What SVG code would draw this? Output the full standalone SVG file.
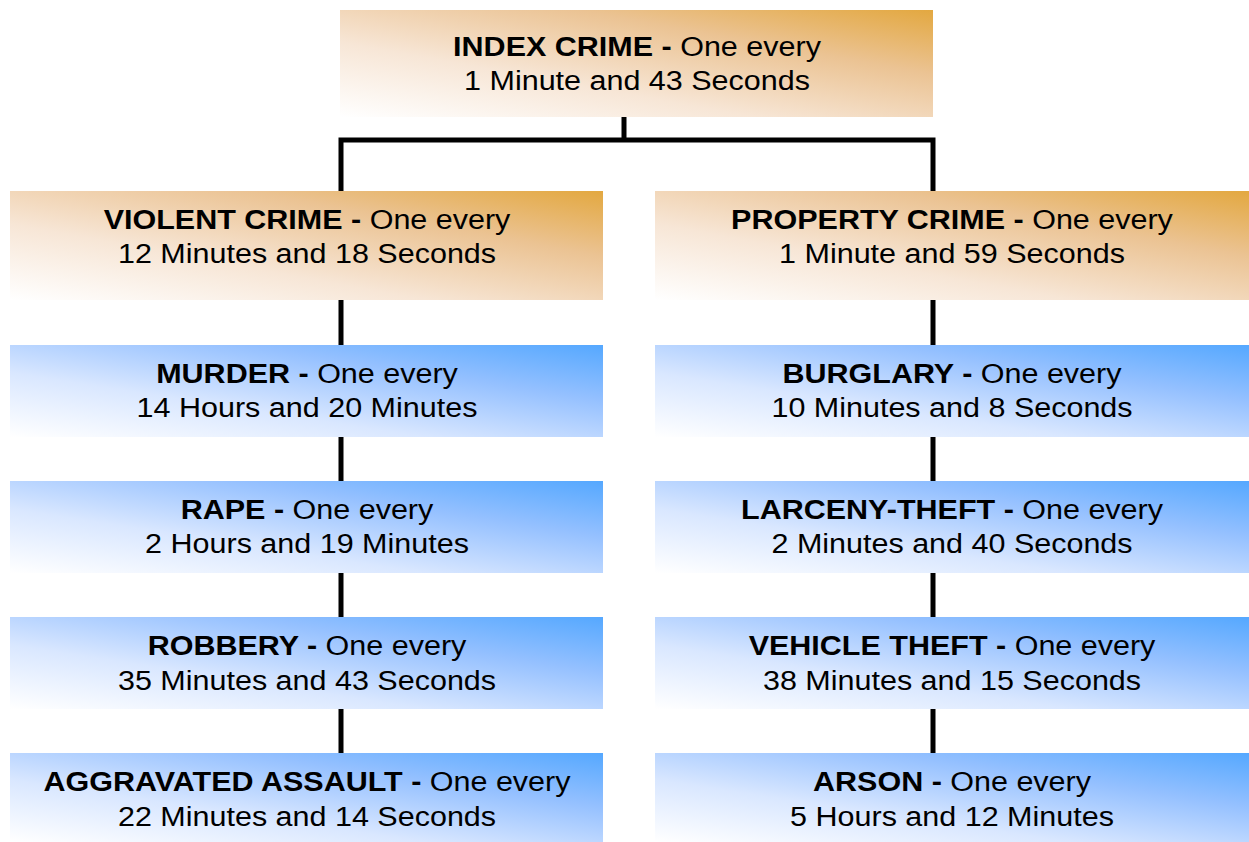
<svg xmlns="http://www.w3.org/2000/svg" width="1249" height="842" viewBox="0 0 1249 842">
<defs>
<linearGradient id="orange" x1="0" y1="1" x2="1" y2="0">
<stop offset="0" stop-color="#ffffff"/>
<stop offset="0.35" stop-color="#f7e6d6"/>
<stop offset="0.7" stop-color="#ebc393"/>
<stop offset="1" stop-color="#e3a840"/>
</linearGradient>
<linearGradient id="blue" x1="0" y1="1" x2="1" y2="0">
<stop offset="0" stop-color="#ffffff"/>
<stop offset="0.35" stop-color="#d9e7ff"/>
<stop offset="0.7" stop-color="#94c0ff"/>
<stop offset="1" stop-color="#55a8ff"/>
</linearGradient>
</defs>
<style>
.o{fill:url(#orange);}
.b{fill:url(#blue);}
text{font-family:"Liberation Sans",Arial,sans-serif;font-size:28px;fill:#000;text-anchor:middle;}
.t{font-weight:bold;}
.c{fill:none;stroke:#000;stroke-width:5;}
</style>
<rect width="1249" height="842" fill="#fff"/>
<g id="connectors">
<path class="c" d="M624 117 V140 M341 193 V140 H933 V193"/>
<path class="c" d="M341 300 V345 M341 437 V481 M341 573 V617 M341 709 V753"/>
<path class="c" d="M933 300 V345 M933 437 V481 M933 573 V617 M933 709 V753"/>
</g>
<g id="index"><rect class="o" x="340" y="10" width="593" height="107"/>
<g transform="translate(637 0) scale(1.09 1)"><text x="0" y="56"><tspan class="t">INDEX CRIME - </tspan>One every</text><text x="0" y="90">1 Minute and 43 Seconds</text></g></g>
<g id="violent"><rect class="o" x="10" y="191" width="593" height="109"/>
<g transform="translate(307 0) scale(1.09 1)"><text x="0" y="229"><tspan class="t">VIOLENT CRIME - </tspan>One every</text><text x="0" y="263">12 Minutes and 18 Seconds</text></g></g>
<g id="property"><rect class="o" x="655" y="191" width="594" height="109"/>
<g transform="translate(952 0) scale(1.09 1)"><text x="0" y="229"><tspan class="t">PROPERTY CRIME - </tspan>One every</text><text x="0" y="263">1 Minute and 59 Seconds</text></g></g>
<g id="murder"><rect class="b" x="10" y="345" width="593" height="92"/>
<g transform="translate(307 0) scale(1.09 1)"><text x="0" y="383"><tspan class="t">MURDER - </tspan>One every</text><text x="0" y="417">14 Hours and 20 Minutes</text></g></g>
<g id="rape"><rect class="b" x="10" y="481" width="593" height="92"/>
<g transform="translate(307 0) scale(1.09 1)"><text x="0" y="519"><tspan class="t">RAPE - </tspan>One every</text><text x="0" y="553">2 Hours and 19 Minutes</text></g></g>
<g id="robbery"><rect class="b" x="10" y="617" width="593" height="92"/>
<g transform="translate(307 0) scale(1.09 1)"><text x="0" y="655"><tspan class="t">ROBBERY - </tspan>One every</text><text x="0" y="690">35 Minutes and 43 Seconds</text></g></g>
<g id="assault"><rect class="b" x="10" y="753" width="593" height="89"/>
<g transform="translate(307 0) scale(1.09 1)"><text x="0" y="791"><tspan class="t">AGGRAVATED ASSAULT - </tspan>One every</text><text x="0" y="826">22 Minutes and 14 Seconds</text></g></g>
<g id="burglary"><rect class="b" x="655" y="345" width="594" height="92"/>
<g transform="translate(952 0) scale(1.09 1)"><text x="0" y="383"><tspan class="t">BURGLARY - </tspan>One every</text><text x="0" y="417">10 Minutes and 8 Seconds</text></g></g>
<g id="larceny"><rect class="b" x="655" y="481" width="594" height="92"/>
<g transform="translate(952 0) scale(1.09 1)"><text x="0" y="519"><tspan class="t">LARCENY-THEFT - </tspan>One every</text><text x="0" y="553">2 Minutes and 40 Seconds</text></g></g>
<g id="vehicle"><rect class="b" x="655" y="617" width="594" height="92"/>
<g transform="translate(952 0) scale(1.09 1)"><text x="0" y="655"><tspan class="t">VEHICLE THEFT - </tspan>One every</text><text x="0" y="690">38 Minutes and 15 Seconds</text></g></g>
<g id="arson"><rect class="b" x="655" y="753" width="594" height="89"/>
<g transform="translate(952 0) scale(1.09 1)"><text x="0" y="791"><tspan class="t">ARSON - </tspan>One every</text><text x="0" y="826">5 Hours and 12 Minutes</text></g></g>
</svg>
